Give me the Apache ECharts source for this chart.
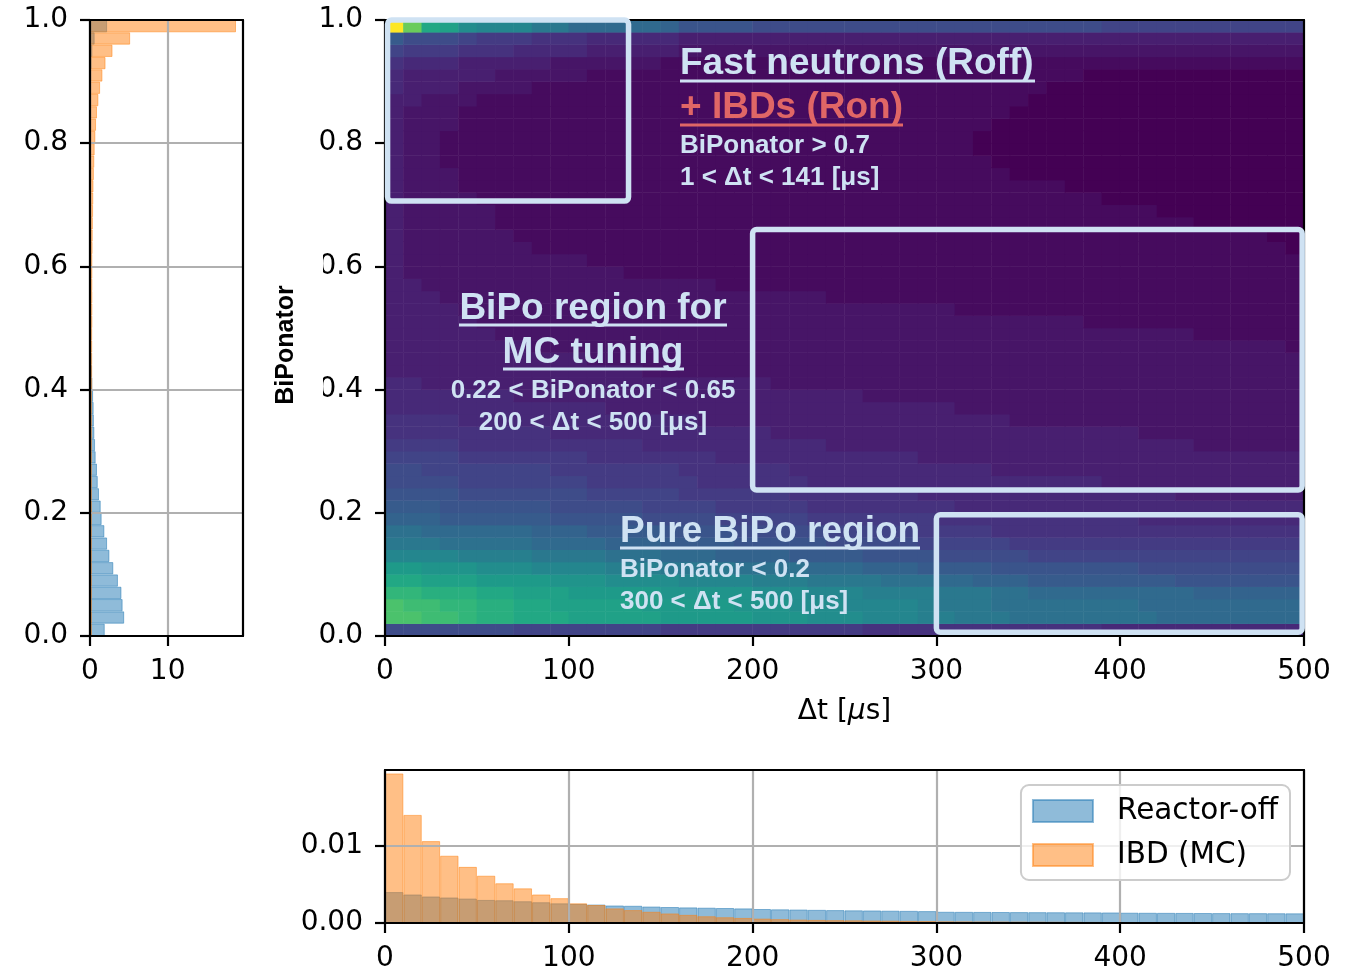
<!DOCTYPE html>
<html>
<head>
<meta charset="utf-8">
<script src="https://cdn.jsdelivr.net/npm/echarts@6/dist/echarts.min.js"></script>
<style>
  html, body { margin: 0; padding: 0; background: #fff; }
  #main { width: 1358px; height: 972px; }
</style>
</head>
<body>
<div id="main"></div>
<script>
// bin centres: dt bins are 10 us wide, BiPonator bins 0.02 wide
const dtBins = [5, 15, 25, 35, 45, 55, 65, 75, 85, 95,
  105, 115, 125, 135, 145, 155, 165, 175, 185, 195,
  205, 215, 225, 235, 245, 255, 265, 275, 285, 295,
  305, 315, 325, 335, 345, 355, 365, 375, 385, 395,
  405, 415, 425, 435, 445, 455, 465, 475, 485, 495];
const bipoBins = [0.01, 0.03, 0.05, 0.07, 0.09, 0.11, 0.13, 0.15, 0.17, 0.19,
  0.21, 0.23, 0.25, 0.27, 0.29, 0.31, 0.33, 0.35, 0.37, 0.39,
  0.41, 0.43, 0.45, 0.47, 0.49, 0.51, 0.53, 0.55, 0.57, 0.59,
  0.61, 0.63, 0.65, 0.67, 0.69, 0.71, 0.73, 0.75, 0.77, 0.79,
  0.81, 0.83, 0.85, 0.87, 0.89, 0.91, 0.93, 0.95, 0.97, 0.99];

// left panel: BiPonator projection, bottom bin first
const bipoOff = [1.9, 4.4, 4.2, 4.05, 3.6, 3.0, 2.5, 2.2, 1.85, 1.5,
  1.38, 1.16, 1.0, 0.9, 0.73, 0.65, 0.56, 0.5, 0.47, 0.4,
  0.3, 0.25, 0.2, 0.15, 0.15, 0.15, 0.12, 0.12, 0.12, 0.1,
  0.1, 0.1, 0.1, 0.1, 0.1, 0.1, 0.1, 0.1, 0.1, 0.1,
  0.1, 0.1, 0.1, 0.1, 0.12, 0.15, 0.2, 0.3, 0.6, 2.2];
const bipoIbd = [0.25, 0.25, 0.25, 0.25, 0.25, 0.25, 0.25, 0.25, 0.25, 0.25,
  0.25, 0.25, 0.25, 0.25, 0.25, 0.25, 0.25, 0.25, 0.25, 0.25,
  0.28, 0.28, 0.28, 0.28, 0.28, 0.3, 0.3, 0.3, 0.3, 0.3,
  0.3, 0.33, 0.35, 0.37, 0.4, 0.42, 0.45, 0.5, 0.55, 0.6,
  0.69, 0.78, 0.9, 1.08, 1.3, 1.6, 2.0, 2.9, 5.17, 18.8];

// bottom panel: dt projection
const dtOff = [0.00402, 0.00371, 0.00345, 0.00332, 0.00318, 0.0030, 0.00296, 0.00283, 0.0027, 0.00256,
  0.00248, 0.0024, 0.00228, 0.00224, 0.00214, 0.00208, 0.00203, 0.00199, 0.00195, 0.0019,
  0.00182, 0.00178, 0.00175, 0.00171, 0.00168, 0.00165, 0.00163, 0.0016, 0.00158, 0.00155,
  0.00146, 0.00145, 0.00144, 0.00143, 0.00142, 0.00141, 0.0014, 0.00139, 0.00138, 0.00137,
  0.00134, 0.00133, 0.00132, 0.00131, 0.0013, 0.00129, 0.00128, 0.00128, 0.00127, 0.00126];
const dtIbd = [0.01945, 0.01406, 0.01065, 0.00875, 0.0073, 0.00615, 0.00517, 0.00451, 0.00371, 0.00323,
  0.00256, 0.00234, 0.0019, 0.00168, 0.00146, 0.00124, 0.00106, 0.00088, 0.00075, 0.00066,
  0.00057, 0.0005, 0.00044, 0.0004, 0.00037, 0.00035, 0.00032, 0.0003, 0.00027, 0.00025,
  0.00022, 0.00021, 0.0002, 0.00019, 0.00018, 0.00017, 0.00016, 0.00015, 0.00014, 0.00013,
  0.00012, 0.00012, 0.00011, 0.00011, 0.0001, 0.0001, 0.00009, 0.00009, 0.00008, 0.00008];

// 2D map: one string per BiPonator row (bottom row first), one base-36 level (0..z) per dt bin
const heatRows = [
  "88888 88777 77777 66666 66666 65555 55555 55554 44444 44444",
  "ppoon mmlll kkkkk jjjjj iiihh hgggf feeed ddddd ddccc ccccc",
  "poonn mmllk kkkkj jjjji iihhh ggggf eeedd ddddd dcccc ccccc",
  "nnmmm llkkk jjjjj iiiii hhhgg gffff eeedd ccccc ccccb bbbbb",
  "llkkk jjjji iihhh hgggg fffee eeddd ccbbb aaaaa aaa99 99999",
  "jjiii hhhgg ggfff eeeed dddcc cbbba aaa99 99999 98888 88888",
  "ggggf fffee eeddd cccbb bbaaa a9999 88888 77777 77777 77777",
  "eeedd dddcc ccbbb aaaa9 99998 88887 77776 66666 66666 66666",
  "ddccc cccbb baaaa 99998 88887 77776 66655 55555 55555 55555",
  "bbbaa aaaa9 99998 88877 77766 66666 55555 55555 54444 44444",
  "aaa99 99998 88887 77766 66655 55555 54444 44444 44444 44444",
  "99998 88888 87777 76666 66555 55554 44444 44444 44433 33333",
  "88887 77777 76666 66555 55544 44444 44444 44443 33333 33333",
  "88777 77776 66666 65555 55444 44444 44433 33333 33333 33333",
  "77776 66666 65555 55544 44444 44443 33333 33333 33333 33333",
  "66665 55555 55554 44444 44443 33333 33333 33333 33332 22222",
  "55555 55554 44444 44444 43333 33333 33333 33333 32222 22222",
  "55554 44444 44444 44333 33333 33333 33332 22222 22222 22222",
  "44444 44444 44333 33333 33333 33333 32222 22222 22222 22222",
  "44444 44333 33333 33333 33333 32222 22222 22222 22222 22222",
  "44333 33333 33333 33333 32222 22222 22222 22222 22222 22222",
  "33333 33333 33332 22222 22222 22222 22222 22222 22222 22222",
  "33333 33333 32222 22222 22222 22222 22222 22222 22222 22222",
  "33333 33322 22222 22222 22222 22222 22222 22222 22222 22221",
  "33333 32222 22222 22222 22222 22222 22222 22222 22221 11111",
  "33333 22222 22222 22222 22222 22222 22222 22211 11111 11111",
  "33332 22222 22222 22222 22222 22222 21111 11111 11111 11111",
  "33322 22222 22222 22222 22221 11111 11111 11111 11111 11111",
  "33222 22222 22222 22211 11111 11111 11111 11111 11111 11111",
  "32222 22222 22211 11111 11111 11111 11111 11111 11111 11111",
  "32222 22222 21111 11111 11111 11111 11111 11111 11111 11111",
  "32222 22211 11111 11111 11111 11111 11111 11111 11111 11110",
  "32222 22111 11111 11111 11111 11111 11111 11111 11111 11100",
  "32222 21111 11111 11111 11111 11111 11111 11111 11110 00000",
  "32222 21111 11111 11111 11111 11111 11111 11111 11000 00000",
  "32222 11111 11111 11111 11111 11111 11111 11110 00000 00000",
  "32221 11111 11111 11111 11111 11111 11111 11000 00000 00000",
  "32221 11111 11111 11111 11111 11111 11110 00000 00000 00000",
  "32211 11111 11111 11111 11111 11111 11100 00000 00000 00000",
  "32211 11111 11111 11111 11111 11111 11000 00000 00000 00000",
  "32211 11111 11111 11111 11111 11111 11000 00000 00000 00000",
  "32221 11111 11111 11111 11111 11111 11100 00000 00000 00000",
  "32221 11111 11111 11111 11111 11111 11110 00000 00000 00000",
  "33222 11111 11111 11111 11111 11111 11111 00000 00000 00000",
  "43332 22211 11111 11111 11111 11111 11111 10000 00000 00000",
  "43333 32222 21111 11111 11111 11111 11111 11100 00000 00000",
  "54443 33332 22222 11111 11111 11111 11111 11111 11111 11111",
  "76665 55444 43333 32222 22222 22222 22222 22222 22222 22222",
  "a8887 66655 54444 43333 33333 33333 33333 33333 33333 33333",
  "zrlkh gggee ccccc b9999 88888 88888 88888 88887 77777 77777"
];

// selection boxes: [dt from, BiPonator from, dt to, BiPonator to]
const regionBoxes = [
  [1.4, 0.706, 132.5, 1.0],
  [200, 0.237, 499, 0.66],
  [300, 0.006, 499, 0.197]
];

const viridis = ['#440154', '#471365', '#482475', '#463480', '#414487', '#3b528b', '#355f8d',
  '#2f6c8e', '#2a788e', '#25848e', '#21918c', '#1e9c89', '#22a884', '#2fb47c', '#44bf70',
  '#5ec962', '#7ad151', '#9bd93c', '#bddf26', '#dfe318', '#fde725'];

const heatData = [];
heatRows.forEach(function (row, r) {
  row.replace(/ /g, '').split('').forEach(function (ch, c) {
    heatData.push([c, r, parseInt(ch, 36)]);
  });
});

const blueA = 'rgba(31,119,180,0.5)';
const orangeA = 'rgba(255,127,14,0.5)';
const annColor = '#cfe2f3';
const ibdColor = '#e06666';
const bigFont = 'bold 37px "Liberation Sans", Arial, sans-serif';
const smallFont = 'bold 26px "Liberation Sans", Arial, sans-serif';

const axLine = { show: true, onZero: false, lineStyle: { color: '#000', width: 2.2 } };
const axTick = { show: true, length: 10, lineStyle: { color: '#000', width: 2.2 } };
const axLabel = { fontFamily: 'DejaVu Sans', fontSize: 28, color: '#000', margin: 22 };
const gridOn = { show: true, lineStyle: { color: '#b0b0b0', width: 2.2 } };
const off = { show: false };

function frame(gi, pos) {
  return {
    gridIndex: gi, type: 'value', position: pos, min: 0, max: 1, z: 10,
    axisLine: axLine, axisTick: off, axisLabel: off, splitLine: off
  };
}

function txt(x, y, s, font, fill, align) {
  return {
    type: 'text', x: x, y: y, z: 100, silent: true,
    style: { text: s, font: font, fill: fill, textAlign: align || 'left', textVerticalAlign: 'middle' }
  };
}
function uline(x1, x2, y, color) {
  return {
    type: 'line', z: 100, silent: true,
    shape: { x1: x1, y1: y, x2: x2, y2: y },
    style: { stroke: color, lineWidth: 3 }
  };
}

const chart = echarts.init(document.getElementById('main'));

const option = {
  animation: false,
  grid: [
    { left: 90, top: 20, width: 153, height: 616, outerBoundsMode: 'none' },
    { left: 385, top: 20, width: 919, height: 616, outerBoundsMode: 'none' },
    { left: 385, top: 770, width: 919, height: 153, outerBoundsMode: 'none' }
  ],
  xAxis: [
    {
      gridIndex: 0, type: 'value', position: 'bottom', min: 0, max: 19.7, interval: 10, z: 10,
      axisLine: axLine,
      axisTick: Object.assign({}, axTick, { customValues: [0, 10] }),
      axisLabel: Object.assign({}, axLabel, { customValues: [0, 10] }),
      splitLine: gridOn
    },
    { gridIndex: 1, type: 'category', position: 'bottom', data: dtBins, show: false },
    {
      gridIndex: 1, type: 'value', position: 'bottom', min: 0, max: 500, interval: 100, z: 10,
      axisLine: axLine, axisTick: axTick, axisLabel: axLabel, splitLine: off,
      name: 'Δt [{i|μ}s]', nameLocation: 'middle', nameGap: 62,
      nameTextStyle: {
        fontFamily: 'DejaVu Sans', fontSize: 28, color: '#000',
        rich: { i: { fontFamily: 'DejaVu Sans', fontSize: 28, fontStyle: 'italic', color: '#000' } }
      }
    },
    { gridIndex: 2, type: 'category', position: 'bottom', data: dtBins, show: false },
    {
      gridIndex: 2, type: 'value', position: 'bottom', min: 0, max: 500, interval: 100, z: 10,
      axisLine: axLine, axisTick: axTick, axisLabel: axLabel, splitLine: gridOn
    },
    frame(0, 'top'), frame(1, 'top'), frame(2, 'top')
  ],
  yAxis: [
    { gridIndex: 0, type: 'category', position: 'left', data: bipoBins, show: false },
    {
      gridIndex: 0, type: 'value', position: 'left', min: 0, max: 1, interval: 0.2, z: 10,
      axisLine: axLine, axisTick: axTick,
      axisLabel: Object.assign({}, axLabel, { formatter: function (v) { return v.toFixed(1); } }),
      splitLine: gridOn
    },
    { gridIndex: 1, type: 'category', position: 'left', data: bipoBins, show: false },
    {
      gridIndex: 1, type: 'value', position: 'left', min: 0, max: 1, interval: 0.2, z: 10,
      axisLine: axLine, axisTick: axTick,
      axisLabel: Object.assign({}, axLabel, { formatter: function (v) { return v.toFixed(1); } }),
      splitLine: off
    },
    {
      gridIndex: 2, type: 'value', position: 'left', min: 0, max: 0.0199, interval: 0.01, z: 10,
      axisLine: axLine,
      axisTick: Object.assign({}, axTick, { customValues: [0, 0.01] }),
      axisLabel: Object.assign({}, axLabel, { customValues: [0, 0.01], formatter: function (v) { return v.toFixed(2); } }),
      splitLine: gridOn
    },
    frame(0, 'right'), frame(1, 'right'), frame(2, 'right')
  ],
  visualMap: {
    type: 'continuous', show: false, seriesIndex: 2, min: 0, max: 35,
    inRange: { color: viridis }
  },
  legend: {
    data: ['Reactor-off', 'IBD (MC)'],
    orient: 'vertical', right: 68, top: 785, z: 20,
    itemWidth: 60, itemHeight: 22, itemGap: 14,
    padding: [11, 12, 10, 11],
    backgroundColor: 'rgba(255,255,255,0.8)',
    borderColor: '#cccccc', borderWidth: 2, borderRadius: 8,
    icon: 'rect', selectedMode: false,
    textStyle: { fontFamily: 'DejaVu Sans', fontSize: 29.5, color: '#000', padding: [0, 0, 0, 19] }
  },
  series: [
    {
      type: 'bar', name: 'Reactor-off', xAxisIndex: 0, yAxisIndex: 0, data: bipoOff,
      barWidth: '100%', barGap: '-100%', silent: true,
      itemStyle: { color: blueA, borderColor: blueA, borderWidth: 1 }
    },
    {
      type: 'bar', name: 'IBD (MC)', xAxisIndex: 0, yAxisIndex: 0, data: bipoIbd,
      barWidth: '100%', barGap: '-100%', silent: true,
      itemStyle: { color: orangeA, borderColor: orangeA, borderWidth: 1 }
    },
    {
      type: 'heatmap', xAxisIndex: 1, yAxisIndex: 2, data: heatData, silent: true,
      itemStyle: { borderWidth: 0 }, emphasis: { disabled: true }
    },
    {
      type: 'custom', xAxisIndex: 2, yAxisIndex: 3, data: regionBoxes, z: 11, silent: true, clip: false,
      encode: { x: [0, 2], y: [1, 3] },
      renderItem: function (params, api) {
        const a = api.coord([api.value(0), api.value(3)]);
        const b = api.coord([api.value(2), api.value(1)]);
        return {
          type: 'rect',
          shape: { x: a[0], y: a[1], width: b[0] - a[0], height: b[1] - a[1], r: 4 },
          style: { fill: 'transparent', stroke: annColor, lineWidth: 5.5 }
        };
      }
    },
    {
      type: 'bar', name: 'Reactor-off', xAxisIndex: 3, yAxisIndex: 4, data: dtOff,
      barWidth: '100%', barGap: '-100%', silent: true,
      itemStyle: { color: blueA, borderColor: blueA, borderWidth: 1 }
    },
    {
      type: 'bar', name: 'IBD (MC)', xAxisIndex: 3, yAxisIndex: 4, data: dtIbd,
      barWidth: '100%', barGap: '-100%', silent: true,
      itemStyle: { color: orangeA, borderColor: orangeA, borderWidth: 1 }
    }
  ],
  graphic: [
    // white patch behind the y title, as in the original figure
    { type: 'rect', z: 99, silent: true, shape: { x: 264, y: 248, width: 59, height: 178 }, style: { fill: '#fff' } },
    {
      type: 'text', x: 286, y: 345, rotation: Math.PI / 2, z: 100, silent: true,
      style: { text: 'BiPonator', font: 'bold 25px "Liberation Sans", Arial, sans-serif', fill: '#000', textAlign: 'center', textVerticalAlign: 'middle' }
    },
    txt(680, 64, 'Fast neutrons (Roff)', bigFont, annColor),
    uline(680, 1035, 81, annColor),
    txt(680, 108, '+ IBDs (Ron)', bigFont, ibdColor),
    uline(680, 903, 125, ibdColor),
    txt(680, 146, 'BiPonator > 0.7', smallFont, annColor),
    txt(680, 178, '1 < Δt < 141 [μs]', smallFont, annColor),
    txt(593, 309, 'BiPo region for', bigFont, annColor, 'center'),
    uline(459, 727, 325, annColor),
    txt(593, 353, 'MC tuning', bigFont, annColor, 'center'),
    uline(503, 684, 369, annColor),
    txt(593, 391, '0.22 < BiPonator < 0.65', smallFont, annColor, 'center'),
    txt(593, 423, '200 < Δt < 500 [μs]', smallFont, annColor, 'center'),
    txt(620, 532, 'Pure BiPo region', bigFont, annColor),
    uline(620, 920, 548, annColor),
    txt(620, 570, 'BiPonator < 0.2', smallFont, annColor),
    txt(620, 602, '300 < Δt < 500 [μs]', smallFont, annColor)
  ]
};

chart.setOption(option);
</script>
</body>
</html>
